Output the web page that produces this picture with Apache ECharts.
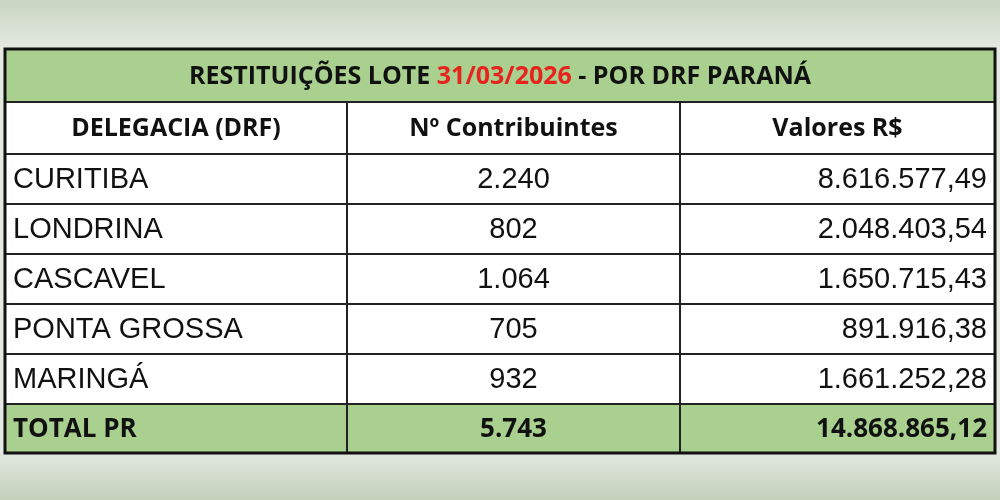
<!DOCTYPE html>
<html><head><meta charset="utf-8">
<script src="https://cdn.jsdelivr.net/npm/echarts@6/dist/echarts.min.js"></script>
<style>html,body{margin:0;padding:0;}#main{width:1000px;height:500px;}</style>
</head><body><div id="main"></div>
<script>
// dados da tabela
var titulo = ['RESTITUIÇÕES LOTE ', '31/03/2026', ' - POR DRF PARANÁ'];
var cabecalho = ['DELEGACIA (DRF)', 'Nº Contribuintes', 'Valores R$'];
var delegacias = ['CURITIBA', 'LONDRINA', 'CASCAVEL', 'PONTA GROSSA', 'MARINGÁ'];
var contribuintes = ['2.240', '802', '1.064', '705', '932'];
var valores = ['8.616.577,49', '2.048.403,54', '1.650.715,43', '891.916,38', '1.661.252,28'];
var total = ['TOTAL PR', '5.743', '14.868.865,12'];

var myChart = echarts.init(document.getElementById('main'));

var tLeft = 5, tRight = 995, tTop = 49;
var colX = [5, 347, 680, 995];
var rowH = [53, 52, 50, 50, 50, 50, 50, 49];
var verde = '#a9d08e';
var el = [];

// fundo borrado
el.push({type: 'rect', shape: {x: 0, y: 0, width: 1000, height: 500},
  style: {fill: new echarts.graphic.LinearGradient(0, 0, 0, 1, [
    {offset: 0, color: '#c9d6c2'}, {offset: 0.1, color: '#e4e9e1'},
    {offset: 0.9, color: '#e4e9e1'}, {offset: 1, color: '#c3d1bb'}])}});

var yy = tTop, ys = [];
for (var i = 0; i < rowH.length; i++) { ys.push(yy); yy += rowH[i]; }
var tBottom = yy;

// linhas de fundo
for (var i = 0; i < rowH.length; i++) {
  var fill = (i == 0 || i == rowH.length - 1) ? verde : '#ffffff';
  el.push({type: 'rect', shape: {x: tLeft, y: ys[i], width: tRight - tLeft, height: rowH[i]}, style: {fill: fill}});
}
// grade
for (var i = 1; i < rowH.length; i++) {
  el.push({type: 'line', shape: {x1: tLeft, y1: ys[i], x2: tRight, y2: ys[i]}, style: {stroke: '#222', lineWidth: 2}});
}
for (var c = 1; c < 3; c++) {
  el.push({type: 'line', shape: {x1: colX[c], y1: ys[1], x2: colX[c], y2: tBottom}, style: {stroke: '#222', lineWidth: 2}});
}
el.push({type: 'rect', shape: {x: tLeft, y: tTop, width: tRight - tLeft, height: tBottom - tTop},
  style: {fill: 'none', stroke: '#111', lineWidth: 3}});

// titulo
el.push({type: 'text', x: 500, y: ys[0] + rowH[0] / 2 + 1, style: {
  text: '{a|' + titulo[0] + '}{r|' + titulo[1] + '}{a|' + titulo[2] + '}',
  align: 'center', verticalAlign: 'middle',
  rich: {a: {fontFamily: 'Open Sans', fontWeight: 'bold', fontSize: 25, fill: '#111'},
         r: {fontFamily: 'Open Sans', fontWeight: 'bold', fontSize: 25, fill: '#e8231e'}}}});

function cell(c, r, txt, bold, size) {
  var x, align;
  if (c == 0) { x = colX[0] + 8; align = 'left'; }
  else if (c == 1) { x = (colX[1] + colX[2]) / 2; align = 'center'; }
  else { x = colX[3] - 8; align = 'right'; }
  el.push({type: 'text', x: x, y: ys[r] + rowH[r] / 2 + 1, style: {
    text: txt, align: align, verticalAlign: 'middle',
    fontFamily: bold ? 'Open Sans' : 'Liberation Sans', fontWeight: bold ? 'bold' : 'normal',
    fontSize: size, fill: '#111'}});
}
// cabecalho centralizado
for (var c = 0; c < 3; c++) {
  el.push({type: 'text', x: (colX[c] + colX[c + 1]) / 2, y: ys[1] + rowH[1] / 2 + 1, style: {
    text: cabecalho[c], align: 'center', verticalAlign: 'middle',
    fontFamily: 'Open Sans', fontWeight: 'bold', fontSize: 25, fill: '#111'}});
}
for (var i = 0; i < delegacias.length; i++) {
  cell(0, i + 2, delegacias[i], false, 29);
  cell(1, i + 2, contribuintes[i], false, 29);
  cell(2, i + 2, valores[i], false, 29);
}
for (var c = 0; c < 3; c++) cell(c, rowH.length - 1, total[c], true, 26);

myChart.setOption({graphic: {elements: el}});
</script></body></html>
